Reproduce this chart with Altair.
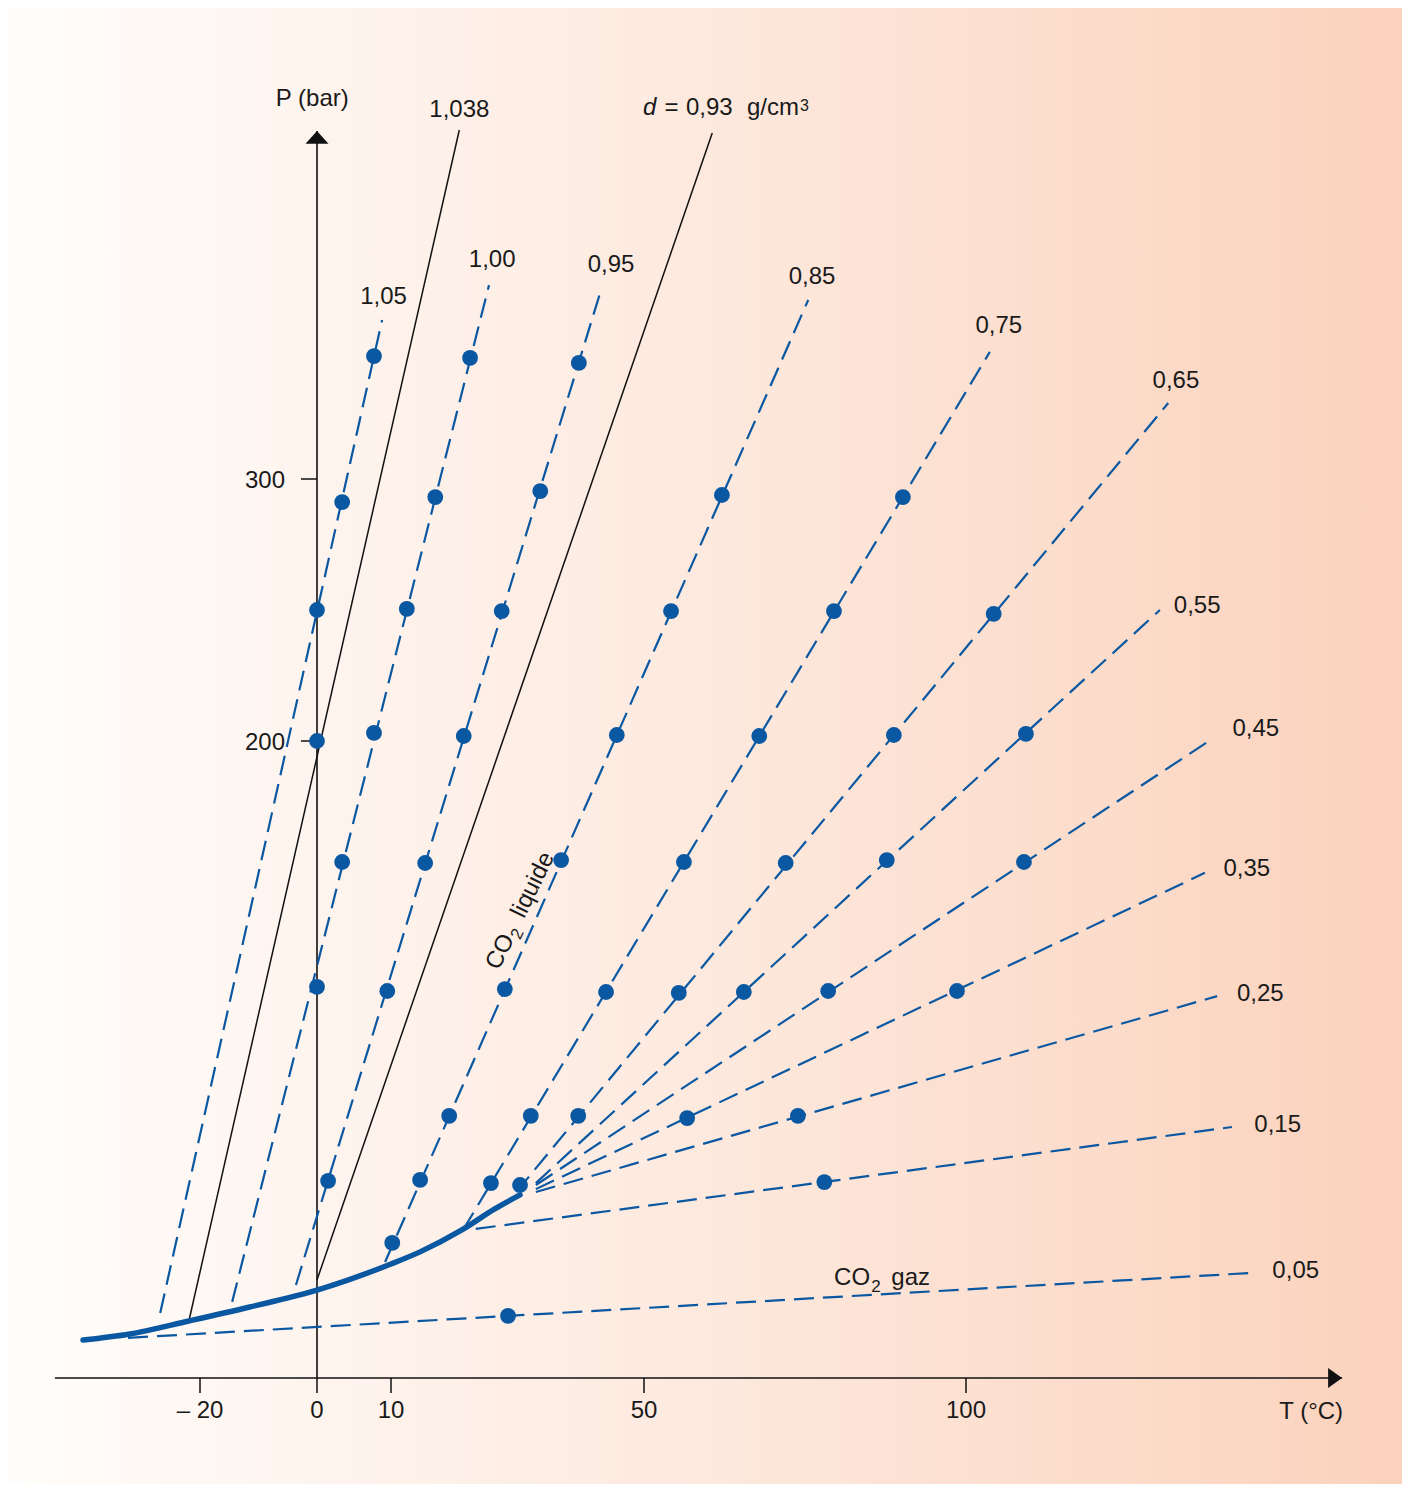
import altair as alt
import pandas as pd

# ---------------- data (T in °C, P in bar) ----------------
TICK_T = [-20, 0, 10, 50, 100]
TICK_T_LABELS = ["\u2013 20", "0", "10", "50", "100"]
TICK_P = [200, 300]
TICK_P_LABELS = ["200", "300"]
AXIS_T_EXTENT = [-44.8, 158.4]
AXIS_P_EXTENT = [0.0, 432.8]

# liquid-vapour saturation curve (up to critical point)
CURVE_T = [-40.0, -32.0, -21.9, -11.5, 0.0, 10.0, 14.6, 21.2, 26.4, 30.4]
CURVE_P = [11.9, 13.8, 17.9, 22.3, 27.6, 35.8, 39.6, 46.5, 53.1, 57.5]

# dashed isochores (start / end)
ISO_NAMES = ["1,05", "1,00", "0,95", "0,85", "0,75", "0,65",
             "0,55", "0,45", "0,35", "0,25", "0,15", "0,05"]
ISO_T0 = [-26.8, -14.5, -3.6, 9.2, 21.4, 29.8, 32.9, 32.9, 32.9, 32.9, 23.4, -32.3]
ISO_P0 = [20.4, 23.9, 29.2, 36.4, 46.5, 58.4, 61.2, 60.6, 59.3, 58.4, 46.8, 12.6]
ISO_T1 = [8.8, 25.5, 43.2, 75.5, 103.7, 131.4, 130.1, 138.4, 137.1, 139.0, 141.3, 144.4]
ISO_P1 = [360.7, 374.0, 372.1, 368.3, 348.5, 329.0, 250.0, 201.1, 158.6, 119.9, 78.8, 33.0]

# solid reference isochores
SOLID_NAMES = ["1,038", "0,93"]
SOLID_T0 = [-21.9, 0.0]
SOLID_P0 = [17.9, 30.8]
SOLID_T1 = [20.8, 60.6]
SOLID_P1 = [433.2, 432.1]

# measured points
DOT_SERIES = (["1,05"] * 3 + ["1,038"] + ["1,00"] * 6 + ["0,95"] * 7 + ["0,85"] * 8
              + ["0,75"] * 7 + ["0,65"] * 6 + ["0,55"] * 3 + ["0,45"] * 2
              + ["0,35"] * 2 + ["0,25"] + ["0,15"] + ["0,05"])
DOT_T = [7.7, 3.4, 0.0,
         0.0,
         22.5, 17.0, 12.5, 7.7, 3.4, 0.0,
         39.7, 33.6, 27.5, 21.5, 15.4, 9.5, 1.5,
         62.1, 54.2, 45.7, 36.9, 28.0, 19.2, 14.6, 10.2,
         90.2, 79.5, 67.9, 56.2, 44.0, 32.1, 25.8,
         104.3, 88.8, 72.0, 55.4, 39.6, 30.4,
         109.3, 87.7, 65.5,
         109.0, 78.6,
         98.6, 56.7,
         73.9,
         78.0,
         28.5]
DOT_P = [346.9, 291.2, 250.0,
         200.0,
         346.2, 293.1, 250.4, 203.1, 162.0, 122.8,
         344.3, 295.4, 249.6, 201.9, 161.7, 121.5, 61.9,
         293.9, 249.6, 202.3, 162.6, 122.1, 82.3, 62.2, 42.4,
         293.1, 249.6, 201.9, 162.0, 121.2, 82.3, 61.2,
         248.5, 202.3, 161.7, 120.9, 82.3, 60.6,
         202.7, 162.6, 121.2,
         162.0, 121.5,
         121.5, 81.6,
         82.3,
         61.5,
         19.5]

# isochore labels
ISO_LABEL_TEXT = ["1,05", "1,038", "1,00", "0,95", "0,85", "0,75", "0,65",
                  "0,55", "0,45", "0,35", "0,25", "0,15", "0,05"]
ISO_LABEL_T = [9.0, 20.8, 26.0, 44.8, 76.1, 105.1, 132.6, 135.9, 145.0, 143.6, 145.7, 148.4, 151.2]
ISO_LABEL_P = [366.8, 438.2, 380.9, 379.0, 374.4, 355.7, 334.7, 248.9, 201.9, 157.6, 118.4, 77.2, 31.4]

# "d = 0,93 g/cm3" pieces
DENS_TEXT = ["d", "=", "0,93", "g/cm", "3"]
DENS_T = [49.84, 54.27, 56.52, 74.07, 74.22]
DENS_P = [438.9, 438.9, 438.9, 438.9, 440.5]

AXIS_TITLES = ["P (bar)", "T (\u00b0C)"]
AXIS_TITLE_T = [-0.8, 153.6]
AXIS_TITLE_P = [442.4, -12.9]

# "CO2 gaz" pieces
GAS_TEXT = ["CO", "2", "gaz"]
GAS_T = [85.1, 85.3, 88.4]
GAS_P = [29.2, 27.0, 29.2]
# "CO2 liquide" pieces (rotated)
LIQ_TEXT = ["CO", "2", "liquide"]
LIQ_T = [27.3, 30.0, 32.45]
LIQ_P = [133.8, 139.4, 154.8]

# ---------------- styling ----------------
BLUE = "#0a57a2"
INK = "#1a1a1a"
FONT = "Liberation Sans"
FS = 24
FS_SMALL = 16
W, H = 1394, 1476

xs = alt.Scale(domain=TICK_T, range=[192, 309, 383, 636, 958], nice=False, zero=False)
ys = alt.Scale(domain=[0, 200, 300], range=[1370, 733, 471], nice=False, zero=False)


def X(f="T"):
    return alt.X(f"{f}:Q", scale=xs, axis=None)


def Y(f="P"):
    return alt.Y(f"{f}:Q", scale=ys, axis=None)


def seg_table(names, t0, p0, t1, p1):
    rows = []
    for n, a, b, c, d in zip(names, t0, p0, t1, p1):
        rows += [{"name": n, "i": 0, "T": a, "P": b}, {"name": n, "i": 1, "T": c, "P": d}]
    return pd.DataFrame(rows)


iso_df = seg_table(ISO_NAMES, ISO_T0, ISO_P0, ISO_T1, ISO_P1)
solid_df = seg_table(SOLID_NAMES, SOLID_T0, SOLID_P0, SOLID_T1, SOLID_P1)
curve_df = pd.DataFrame({"T": CURVE_T, "P": CURVE_P})
dots_df = pd.DataFrame({"series": DOT_SERIES, "T": DOT_T, "P": DOT_P})
lab_df = pd.DataFrame({"text": ISO_LABEL_TEXT, "T": ISO_LABEL_T, "P": ISO_LABEL_P})
xt_df = pd.DataFrame({"T": TICK_T, "P": [0.0] * len(TICK_T), "text": TICK_T_LABELS})
yt_df = pd.DataFrame({"T": [0.0] * len(TICK_P), "P": TICK_P, "text": TICK_P_LABELS})
xaxis_df = pd.DataFrame({"T": AXIS_T_EXTENT, "P": [0.0, 0.0]})
yaxis_df = pd.DataFrame({"T": [0.0, 0.0], "P": AXIS_P_EXTENT})
xarrow_df = pd.DataFrame({"T": [AXIS_T_EXTENT[1]], "P": [0.0]})
yarrow_df = pd.DataFrame({"T": [0.0], "P": [AXIS_P_EXTENT[1]]})
titles_df = pd.DataFrame({"text": AXIS_TITLES, "T": AXIS_TITLE_T, "P": AXIS_TITLE_P})
dens_df = pd.DataFrame({"text": DENS_TEXT, "T": DENS_T, "P": DENS_P})
gas_df = pd.DataFrame({"text": GAS_TEXT, "T": GAS_T, "P": GAS_P})
liq_df = pd.DataFrame({"text": LIQ_TEXT, "T": LIQ_T, "P": LIQ_P})


def text_layer(df, **kw):
    props = dict(font=FONT, fontSize=FS, color=INK, align="center", baseline="alphabetic")
    props.update(kw)
    return alt.Chart(df).mark_text(**props).encode(x=X(), y=Y(), text="text:N")


# ---------------- layers ----------------
bg = alt.Chart(pd.DataFrame({"a": [0]})).mark_rect(
    fill=alt.Gradient(gradient="linear", x1=0, x2=1, y1=0, y2=0,
                      stops=[alt.GradientStop(color="#fffdfb", offset=0),
                             alt.GradientStop(color="#fde9de", offset=0.5),
                             alt.GradientStop(color="#fbd2bc", offset=1)]),
    stroke=None,
).encode(x=alt.value(0), x2=alt.value(W), y=alt.value(0), y2=alt.value(H))

AX = "#111111"
xaxis = alt.Chart(xaxis_df).mark_line(color=AX, strokeWidth=1.6).encode(x=X(), y=Y())
yaxis = alt.Chart(yaxis_df).mark_line(color=AX, strokeWidth=1.6).encode(x=X(), y=Y())
xarrow = alt.Chart(xarrow_df).mark_point(
    shape="M0,0L-1.4,-1L-1.4,1Z", size=400, filled=True, color=AX, opacity=1
).encode(x=X(), y=Y())
yarrow = alt.Chart(yarrow_df).mark_point(
    shape="M0,0L-1,1.1L1,1.1Z", size=529, filled=True, color=AX, opacity=1
).encode(x=X(), y=Y())
xticks = alt.Chart(xt_df).mark_tick(
    orient="vertical", size=15, thickness=1.5, yOffset=7.5, color=AX, opacity=1
).encode(x=X(), y=Y())
yticks = alt.Chart(yt_df).mark_tick(
    orient="horizontal", size=16, thickness=1.5, xOffset=-8, color=AX, opacity=1
).encode(x=X(), y=Y())
xtick_labels = text_layer(xt_df, dy=40)
ytick_labels = text_layer(yt_df, align="right", dx=-32, dy=9)

solid = alt.Chart(solid_df).mark_line(color=AX, strokeWidth=1.5).encode(
    x=X(), y=Y(), detail="name:N", order="i:Q")
dashed = alt.Chart(iso_df).mark_line(color=BLUE, strokeWidth=2.2, strokeDash=[20, 9]).encode(
    x=X(), y=Y(), detail="name:N", order="i:Q")
curve = alt.Chart(curve_df).mark_line(
    color=BLUE, strokeWidth=5.5, strokeCap="round", interpolate="monotone").encode(x=X(), y=Y())
dots = alt.Chart(dots_df).mark_circle(color=BLUE, size=250, opacity=1).encode(x=X(), y=Y())

iso_labels = text_layer(lab_df)
titles = text_layer(titles_df)

dens_d = text_layer(dens_df.iloc[[0]], align="left", fontStyle="italic")
dens_eq = text_layer(dens_df.iloc[[1]], align="center")
dens_num = text_layer(dens_df.iloc[[2]], align="left")
dens_unit = text_layer(dens_df.iloc[[3]], align="right")
dens_sup = text_layer(dens_df.iloc[[4]], align="left", fontSize=FS_SMALL)

gas_co = text_layer(gas_df.iloc[[0]], align="right")
gas_2 = text_layer(gas_df.iloc[[1]], align="left", fontSize=FS_SMALL + 1)
gas_gaz = text_layer(gas_df.iloc[[2]], align="left")

liq_big = text_layer(liq_df.iloc[[0, 2]], baseline="middle", angle=296)
liq_2 = text_layer(liq_df.iloc[[1]], baseline="middle", angle=296, fontSize=FS_SMALL + 1)

chart = alt.layer(
    bg, xaxis, yaxis, xticks, yticks, xarrow, yarrow,
    solid, dashed, curve, dots,
    xtick_labels, ytick_labels, iso_labels, titles,
    dens_d, dens_eq, dens_num, dens_unit, dens_sup,
    gas_co, gas_2, gas_gaz, liq_big, liq_2,
).properties(
    width=W, height=H, padding=0, autosize=alt.AutoSizeParams(type="none")
).configure_view(stroke=None)

chart.save("out.html", embed_options={"renderer": "svg", "actions": False})
